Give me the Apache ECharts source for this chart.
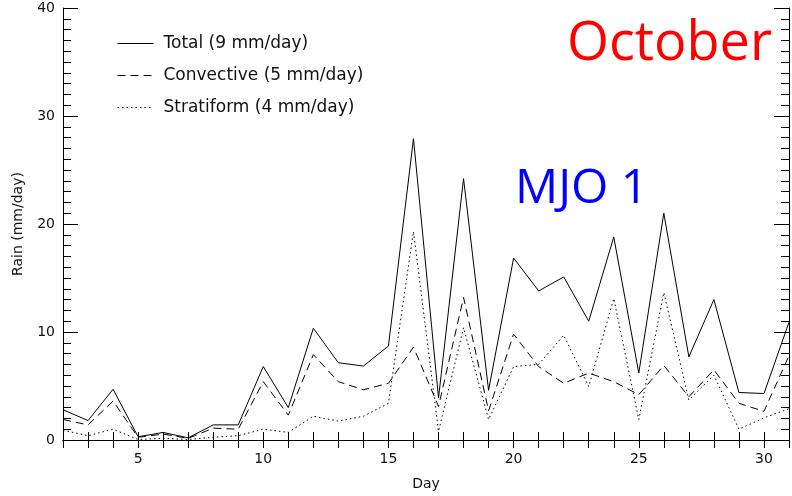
<!DOCTYPE html>
<html><head><meta charset="utf-8">
<script src="https://cdn.jsdelivr.net/npm/echarts@6/dist/echarts.min.js"></script>
<style>html,body{margin:0;padding:0;background:#fff}#c{width:792px;height:496px}</style>
</head><body><div id="c"></div>
<script>
const days = [2,3,4,5,6,7,8,9,10,11,12,13,14,15,16,17,18,19,20,21,22,23,24,25,26,27,28,29,30,31];
const total = [2.8,1.8,4.7,0.3,0.7,0.2,1.4,1.4,6.8,3.0,10.35,7.15,6.85,8.7,27.9,3.9,24.2,4.6,16.85,13.8,15.1,11.0,18.8,6.2,21.0,7.7,13.0,4.4,4.3,10.9];
const convective = [1.9,1.4,3.6,0.25,0.55,0.15,1.1,1.0,5.4,2.3,7.9,5.4,4.65,5.25,8.6,3.1,13.2,2.7,9.8,6.8,5.25,6.2,5.4,4.2,6.9,4.0,6.5,3.4,2.65,7.8];
const stratiform = [0.9,0.4,1.0,0.05,0.15,0.05,0.25,0.4,1.0,0.7,2.2,1.75,2.2,3.4,19.3,0.8,10.4,1.9,6.8,7.0,9.7,4.95,13.1,1.9,13.65,3.7,6.0,1.0,2.05,2.9];
const seriesNames = ['Total (9 mm/day)','Convective (5 mm/day)','Stratiform (4 mm/day)'];
const monthLabel = 'October';
const phaseLabel = 'MJO 1';

const chart = echarts.init(document.getElementById('c'), null, {renderer:'canvas'});
const pair = arr => days.map((d,i)=>[d,arr[i]]);
const axisFont = {fontFamily:'DejaVu Sans', fontSize:14, color:'#111'};
const lineCol = '#000';
chart.setOption({
  animation:false,
  backgroundColor:'#fff',
  title:[
    {text:monthLabel, right:15, top:13, textStyle:{fontFamily:'Open Sans', fontSize:54, fontWeight:'normal', color:'#ff0000'}},
    {text:phaseLabel, left:510, top:160, textStyle:{fontFamily:'Open Sans', fontSize:48, fontWeight:'normal', color:'#0000ff'}}
  ],
  legend:{
    orient:'vertical', left:112, top:30, itemWidth:36, itemHeight:14, itemGap:15,
    itemStyle:{color:'transparent', borderColor:'transparent', borderWidth:0, opacity:0},
    lineStyle:{width:1},
    textStyle:{fontFamily:'DejaVu Sans', fontSize:17, color:'#111', padding:[0,0,0,5]},
    data:seriesNames
  },
  grid:{left:63, right:1, top:8, bottom:52},
  xAxis:[
    {type:'value', min:2, max:31, interval:1, position:'bottom',
     axisLine:{lineStyle:{color:lineCol, width:1}},
     axisTick:{inside:true, length:8, lineStyle:{color:lineCol}},
     axisLabel:Object.assign({margin:12, formatter:v => (v%5===0 ? String(v) : '')}, axisFont),
     splitLine:{show:false},
     name:'Day', nameLocation:'middle', nameGap:37, nameTextStyle:axisFont},
    {type:'value', min:2, max:31, interval:1, position:'top',
     axisLine:{lineStyle:{color:lineCol, width:1}},
     axisTick:{inside:true, length:8, lineStyle:{color:lineCol}},
     axisLabel:{show:false}, splitLine:{show:false}}
  ],
  yAxis:[
    {type:'value', min:0, max:40, interval:10, position:'left',
     axisLine:{show:true, lineStyle:{color:lineCol, width:1}},
     axisTick:{show:true, inside:true, length:15, lineStyle:{color:lineCol}},
     minorTick:{show:true, splitNumber:10, length:8, lineStyle:{color:lineCol}},
     axisLabel:Object.assign({margin:8}, axisFont),
     splitLine:{show:false}, minorSplitLine:{show:false},
     name:'Rain (mm/day)', nameLocation:'middle', nameGap:38, nameRotate:90, nameTextStyle:axisFont},
    {type:'value', min:0, max:40, interval:10, position:'right',
     axisLine:{show:true, lineStyle:{color:lineCol, width:1}},
     axisTick:{show:true, inside:true, length:15, lineStyle:{color:lineCol}},
     minorTick:{show:true, splitNumber:10, length:8, lineStyle:{color:lineCol}},
     axisLabel:{show:false}, splitLine:{show:false}}
  ],
  series:[
    {name:seriesNames[0], type:'line', data:pair(total), symbol:'none', lineStyle:{color:lineCol, width:1, type:'solid'}, itemStyle:{color:lineCol}},
    {name:seriesNames[1], type:'line', data:pair(convective), symbol:'none', lineStyle:{color:lineCol, width:1, type:[8,5]}, itemStyle:{color:lineCol}},
    {name:seriesNames[2], type:'line', data:pair(stratiform), symbol:'none', lineStyle:{color:lineCol, width:1, type:[1.5,3]}, itemStyle:{color:lineCol}}
  ]
});
</script></body></html>
